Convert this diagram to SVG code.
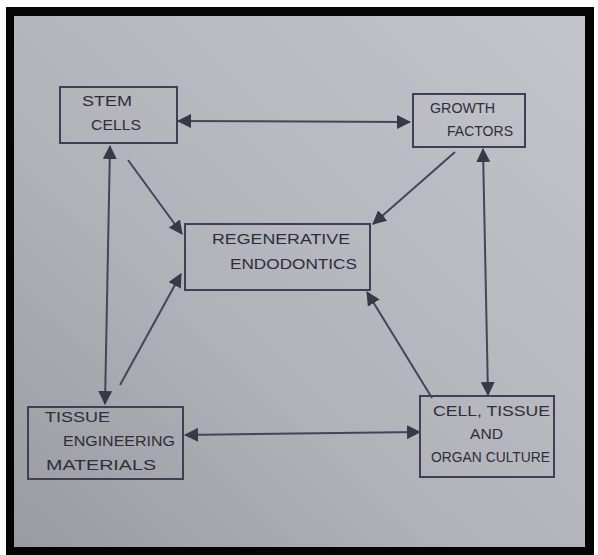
<svg xmlns="http://www.w3.org/2000/svg" width="598" height="555" viewBox="0 0 598 555">
<defs>
<linearGradient id="paper" x1="0" y1="1" x2="1" y2="0">
<stop offset="0" stop-color="#9a9aa2"/>
<stop offset="0.4" stop-color="#b1b2ba"/>
<stop offset="1" stop-color="#c4c5cc"/>
</linearGradient>
<marker id="ah" viewBox="0 0 14 14" refX="13" refY="7" markerWidth="14" markerHeight="14" markerUnits="userSpaceOnUse" orient="auto-start-reverse">
<path d="M0,0 L14,7 L0,14 Z" fill="#393943"/>
</marker>
<style>
.box{fill:none;stroke:#41414b;stroke-width:2}
.lbl{font-family:"Liberation Sans",Arial,sans-serif;font-size:15px;fill:#2e2e37}
.c{stroke:#464651;stroke-width:2;fill:none}
</style>
</defs>
<rect x="0" y="0" width="598" height="555" fill="#ffffff"/>
<rect x="6" y="7" width="588" height="548" fill="#050505"/>
<rect x="14" y="16" width="571" height="531" fill="url(#paper)"/>
<g id="connectors">
<line class="c" x1="178" y1="121" x2="410" y2="122" marker-start="url(#ah)" marker-end="url(#ah)"/>
<line class="c" x1="110" y1="146" x2="105" y2="404" marker-start="url(#ah)" marker-end="url(#ah)"/>
<line class="c" x1="483" y1="149" x2="488" y2="395" marker-start="url(#ah)" marker-end="url(#ah)"/>
<line class="c" x1="185" y1="435" x2="420" y2="432" marker-start="url(#ah)" marker-end="url(#ah)"/>
<line class="c" x1="128" y1="160" x2="182" y2="234" marker-end="url(#ah)"/>
<line class="c" x1="455" y1="152" x2="373" y2="224" marker-end="url(#ah)"/>
<line class="c" x1="120" y1="385" x2="181" y2="274" marker-end="url(#ah)"/>
<line class="c" x1="432" y1="398" x2="367" y2="292" marker-end="url(#ah)"/>
</g>
<g id="stem-cells">
<rect class="box" x="60" y="87" width="117" height="56"/>
<text class="lbl" x="82" y="106" textLength="50" lengthAdjust="spacingAndGlyphs">STEM</text>
<text class="lbl" x="91" y="130" textLength="50" lengthAdjust="spacingAndGlyphs">CELLS</text>
</g>
<g id="growth-factors">
<rect class="box" x="413" y="94" width="112" height="53"/>
<text class="lbl" x="430" y="113" textLength="65" lengthAdjust="spacingAndGlyphs">GROWTH</text>
<text class="lbl" x="447" y="136" textLength="66" lengthAdjust="spacingAndGlyphs">FACTORS</text>
</g>
<g id="regenerative-endodontics">
<rect class="box" x="185" y="224" width="185" height="66"/>
<text class="lbl" x="212" y="244" textLength="138" lengthAdjust="spacingAndGlyphs">REGENERATIVE</text>
<text class="lbl" x="230" y="269" textLength="127" lengthAdjust="spacingAndGlyphs">ENDODONTICS</text>
</g>
<g id="tissue-engineering-materials">
<rect class="box" x="28" y="407" width="155" height="72"/>
<text class="lbl" x="45" y="422" textLength="65" lengthAdjust="spacingAndGlyphs">TISSUE</text>
<text class="lbl" x="63" y="446" textLength="112" lengthAdjust="spacingAndGlyphs">ENGINEERING</text>
<text class="lbl" x="46" y="470" textLength="110" lengthAdjust="spacingAndGlyphs">MATERIALS</text>
</g>
<g id="cell-tissue-organ-culture">
<rect class="box" x="420" y="396" width="134" height="81"/>
<text class="lbl" x="433" y="416" textLength="117" lengthAdjust="spacingAndGlyphs">CELL, TISSUE</text>
<text class="lbl" x="470" y="439" textLength="33" lengthAdjust="spacingAndGlyphs">AND</text>
<text class="lbl" x="431" y="462" textLength="119" lengthAdjust="spacingAndGlyphs">ORGAN CULTURE</text>
</g>
</svg>
